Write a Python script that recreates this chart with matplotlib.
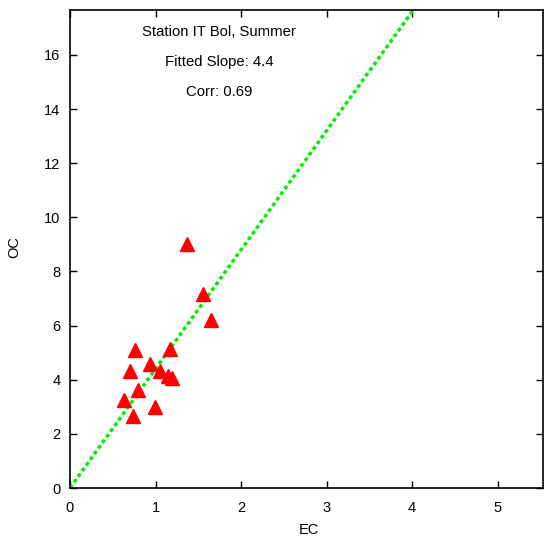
import numpy as np
import matplotlib
matplotlib.use("Agg")
import matplotlib.pyplot as plt

plt.rcParams['font.family'] = ['Liberation Sans', 'DejaVu Sans']

# EC / OC pairs
ec = [1.37, 1.56, 1.65, 0.76, 1.17, 0.93, 0.70, 1.05, 1.15, 1.19, 0.80, 0.63, 0.99, 0.74]
oc = [9.02, 7.15, 6.20, 5.10, 5.15, 4.57, 4.32, 4.34, 4.12, 4.05, 3.62, 3.25, 3.00, 2.66]

slope = 4.4
corr = 0.69
station = "Station IT Bol, Summer"

fig = plt.figure(figsize=(5.44, 5.36), dpi=100)
ax = fig.add_axes([70 / 544, 48 / 536, 473 / 544, 478.5 / 536])

xmax = 5.53
ymax = 17.68

# fitted line through the origin
xl = np.array([0, xmax])
ax.plot(xl, slope * xl, color='#00ee00', lw=2.5, linestyle=(0, (1.1, 0.9)), zorder=2)

ax.plot(ec, oc, linestyle='none', marker='^', ms=9.5, color='red', mec='red', zorder=3)

ax.set_xlim(0, xmax)
ax.set_ylim(0, ymax)
ax.set_xticks(range(0, 6))
ax.set_yticks(range(0, 17, 2))
ax.tick_params(direction='in', top=True, right=True, length=5, width=1, labelsize=10.5, pad=7)
ax.tick_params(axis='x', pad=9)
for s in ax.spines.values():
    s.set_linewidth(1.2)

ax.set_xlabel("EC", fontsize=10.5)
ax.set_ylabel("OC", fontsize=10.5)
ax.xaxis.set_label_coords(0.505, -0.074)
ax.yaxis.set_label_coords(-0.104, 0.503)

fs = 10.7
ax.text(0.315, 0.954, station, transform=ax.transAxes, ha='center', va='center', fontsize=fs)
ax.text(0.315, 0.891, "Fitted Slope: %.1f" % slope, transform=ax.transAxes, ha='center', va='center', fontsize=fs)
ax.text(0.315, 0.828, "Corr: %.2f" % corr, transform=ax.transAxes, ha='center', va='center', fontsize=fs)

fig.savefig("out.png", dpi=100)
